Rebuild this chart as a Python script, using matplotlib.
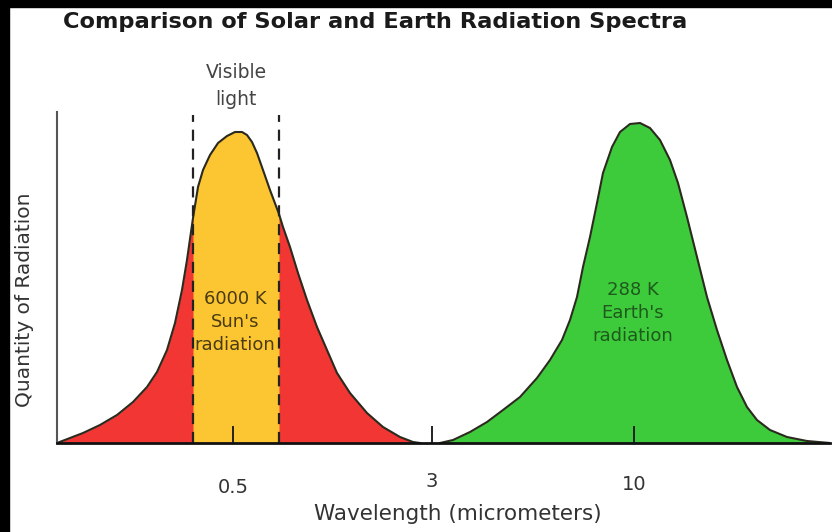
import numpy as np
import matplotlib
matplotlib.use("Agg")
import matplotlib.pyplot as plt
from matplotlib.patches import Rectangle
from matplotlib.transforms import ScaledTranslation

# --- data (schematic units: x = position along axis, y = quantity)
sun_x = np.array([0, 13, 26, 43, 60, 76, 90, 100, 110, 118, 125, 130, 136, 141, 146,
                  153, 161, 170, 178, 185, 190, 195, 200, 206, 213, 222, 226, 233,
                  241, 250, 260, 270, 280, 293, 310, 326, 343, 356, 363])
sun_y = np.array([0, 5, 10, 18, 28, 41, 56, 71, 93, 120, 153, 183, 225, 256, 273,
                  288, 300, 307, 311, 311, 308, 301, 290, 273, 253, 229, 216, 196,
                  170, 143, 116, 93, 70, 50, 30, 16, 6, 1, 0])

earth_x = np.array([383, 396, 413, 430, 446, 463, 480, 493, 505, 513, 520, 526, 533,
                    540, 546, 555, 563, 573, 583, 593, 603, 613, 621, 630, 640, 650,
                    660, 670, 680, 690, 700, 713, 730, 750, 773])
earth_y = np.array([0, 3, 11, 21, 33, 46, 65, 83, 103, 123, 146, 176, 206,
                    240, 270, 296, 311, 319, 320, 315, 303, 283, 260, 226, 186, 146,
                    113, 83, 56, 36, 23, 13, 6, 2, 0])

visible_band = (136, 222)
tick_pos = [176, 375, 577]
tick_labels = ["0.5", "3", "10"]
tick_lift = [0, 6, 3]  # px, the labels sit at slightly different heights

RED = "#f13634"
YELLOW = "#fcc532"
GREEN = "#3dcb3b"
EDGE = "#2a2a1e"

fig = plt.figure(figsize=(8.32, 5.32), dpi=100)
fig.patch.set_facecolor("white")

# black frame strips of the screenshot
fig.patches.append(Rectangle((0, 0), 9 / 832, 1, transform=fig.transFigure,
                             color="black", zorder=0))
fig.patches.append(Rectangle((0, 1 - 7 / 532), 1, 7 / 532, transform=fig.transFigure,
                             color="black", zorder=0))

ax = fig.add_axes([57 / 832, 89 / 532, 773 / 832, 331 / 532])
ax.set_xlim(0, 773)
ax.set_ylim(0, 331)

# --- Sun curve
ax.fill_between(sun_x, sun_y, 0, color=RED, linewidth=0)
mask = (sun_x >= visible_band[0]) & (sun_x <= visible_band[1])
ax.fill_between(sun_x[mask], sun_y[mask], 0, color=YELLOW, linewidth=0)
ax.plot(sun_x, sun_y, color=EDGE, linewidth=1.5, solid_joinstyle="round")

# --- Earth curve
ax.fill_between(earth_x, earth_y, 0, color=GREEN, linewidth=0)
ax.plot(earth_x, earth_y, color=EDGE, linewidth=1.5, solid_joinstyle="round")

# visible light limits
for xv in visible_band:
    ax.plot([xv, xv], [0, 328], color="#222222", linewidth=1.6,
            linestyle=(0, (5, 3.5)), clip_on=False)

ax.text(np.mean(visible_band), 357, "Visible\nlight", ha="center", va="center",
        fontsize=13.5, color="#444444", linespacing=1.55)

ax.text(178, 121, "6000 K\nSun's\nradiation", ha="center", va="center",
        fontsize=13, color="#4a3c12", linespacing=1.35)
ax.text(576, 130, "288 K\nEarth's\nradiation", ha="center", va="center",
        fontsize=13, color="#1e5a1c", linespacing=1.35)

# --- axes styling
for side in ["top", "right"]:
    ax.spines[side].set_visible(False)
ax.spines["left"].set_color("#555555")
ax.spines["left"].set_linewidth(1.5)
ax.spines["bottom"].set_color("#111111")
ax.spines["bottom"].set_linewidth(2)
ax.spines["bottom"].set_zorder(5)

ax.set_yticks([])
ax.set_xticks(tick_pos, tick_labels)
ax.tick_params(axis="x", direction="in", length=12, width=1.4, color="#222222",
               pad=25, labelsize=14, labelcolor="#333333")
for lbl, lift in zip(ax.get_xticklabels(), tick_lift):
    lbl.set_transform(lbl.get_transform()
                      + ScaledTranslation(0, lift / 100, fig.dpi_scale_trans))

ax.set_xlabel("Wavelength (micrometers)", fontsize=15.5, color="#333333", va="center")
ax.xaxis.set_label_coords((458 - 57) / 773, -(514 - 443) / 331)
ax.set_ylabel("Quantity of Radiation", fontsize=14.5, color="#333333", va="center")
ax.yaxis.set_label_coords(-(57 - 25) / 773, (443 - 300) / 331)

fig.text(63 / 832, 1 - 22 / 532, "Comparison of Solar and Earth Radiation Spectra",
         ha="left", va="center", fontsize=16.2, fontweight="bold", color="#1a1a1a")

fig.savefig("out.png", dpi=100)
plt.close(fig)
